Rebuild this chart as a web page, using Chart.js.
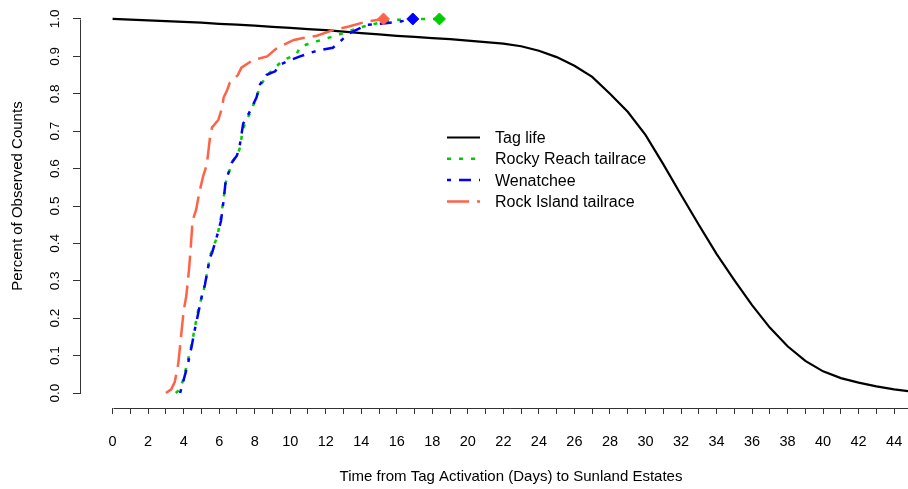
<!DOCTYPE html>
<html>
<head>
<meta charset="utf-8">
<script src="https://cdn.jsdelivr.net/npm/chart.js@4.4.1/dist/chart.umd.min.js"></script>
<style>
  html, body { margin: 0; padding: 0; background: #fff; }
  #wrap { width: 908px; height: 489px; }
</style>
</head>
<body>
<div id="wrap"><canvas id="grafico" width="908" height="489"></canvas></div>
<script>
const FONTE = "'Liberation Sans', Arial, Helvetica, sans-serif";

// vida da marca (dias desde a ativação, proporção ainda ativa)
const tagDias = [0,1,2,3,4,5,6,7,8,9,10,11,12,13,14,15,16,17,18,19,20,21,22,23,24,25,26,27,28,29,30,31,32,33,34,35,36,37,38,39,40,41,42,43,44,45];
const tagVida = [1.000,0.998,0.996,0.994,0.992,0.990,0.987,0.985,0.982,0.979,0.976,0.973,0.970,0.966,0.962,0.959,0.955,0.952,0.949,0.946,0.942,0.938,0.934,0.927,0.915,0.898,0.875,0.845,0.800,0.752,0.690,0.612,0.530,0.450,0.372,0.302,0.235,0.175,0.125,0.086,0.058,0.040,0.028,0.018,0.010,0.004];

// Rocky Reach tailrace
const rockyDias = [3.55,3.8,4.0,4.25,4.45,4.65,4.85,5.05,5.2,5.35,5.5,5.6,5.9,6.1,6.25,6.35,6.55,6.75,7.05,7.2,7.3,7.45,7.75,8.1,8.3,8.7,9.15,9.6,10.35,10.55,11.1,12.05,13.0,13.9,14.85,15.8,16.9,18.4];
const rockyPct  = [0,0.01,0.04,0.09,0.13,0.18,0.23,0.26,0.29,0.33,0.37,0.38,0.42,0.47,0.52,0.56,0.59,0.62,0.64,0.66,0.70,0.72,0.75,0.79,0.82,0.85,0.87,0.89,0.905,0.925,0.935,0.948,0.962,0.977,0.988,0.997,1.0,1.0];

// Wenatchee
const wenDias = [3.8,4.0,4.25,4.45,4.65,4.85,5.0,5.2,5.35,5.5,5.6,5.85,6.1,6.25,6.35,6.5,6.7,7.0,7.15,7.25,7.35,7.75,8.1,8.3,8.65,9.15,9.4,9.8,10.55,11.3,11.7,12.4,13.0,13.35,14.3,15.25,16.2,16.9];
const wenPct  = [0,0.035,0.08,0.125,0.175,0.22,0.255,0.29,0.33,0.365,0.375,0.415,0.46,0.515,0.56,0.585,0.615,0.635,0.66,0.69,0.72,0.755,0.79,0.825,0.85,0.86,0.877,0.886,0.9,0.912,0.917,0.923,0.948,0.962,0.984,0.988,0.993,1.0];

// Rock Island tailrace
const rockIslDias = [3.0,3.3,3.5,3.7,3.85,4.0,4.15,4.3,4.4,4.5,4.7,4.9,5.1,5.3,5.4,5.5,5.6,5.95,6.15,6.25,6.45,6.6,7.05,7.25,7.9,8.7,9.2,9.8,10.2,10.8,11.5,12.4,13.3,14.3,15.25];
const rockIslPct  = [0,0.01,0.03,0.08,0.15,0.22,0.26,0.33,0.39,0.46,0.49,0.54,0.58,0.61,0.65,0.69,0.71,0.73,0.76,0.79,0.81,0.83,0.85,0.87,0.89,0.90,0.92,0.935,0.944,0.95,0.955,0.97,0.98,0.993,1.0];

const xTicks = [0,1,2,3,4,5,6,7,8,9,10,11,12,13,14,15,16,17,18,19,20,21,22,23,24,25,26,27,28,29,30,31,32,33,34,35,36,37,38,39,40,41,42,43,44];
const yTicks = [0,0.1,0.2,0.3,0.4,0.5,0.6,0.7,0.8,0.9,1.0];

function pontos(dias, valores) {
    return dias.map((d, i) => ({ x: d, y: valores[i] }));
}

// losango só no último ponto de cada curva
function raioFinal(ctx) {
    return ctx.dataIndex === ctx.dataset.data.length - 1 ? 6 : 0;
}

const eixosELegenda = {
    id: 'eixosELegenda',
    afterDraw(chart) {
        const { ctx, chartArea, scales: { x, y } } = chart;
        ctx.save();
        ctx.strokeStyle = '#333';
        ctx.lineWidth = 1;

        // linhas dos eixos, do primeiro ao último tick
        const yb = Math.round(chartArea.bottom) + 0.5;
        ctx.beginPath();
        ctx.moveTo(Math.round(x.getPixelForValue(xTicks[0])) + 0.5, yb);
        ctx.lineTo(chartArea.right, yb);
        ctx.stroke();

        const xl = Math.round(chartArea.left) - 0.5;
        ctx.beginPath();
        ctx.moveTo(xl, Math.round(y.getPixelForValue(yTicks[0])) + 0.5);
        ctx.lineTo(xl, Math.round(y.getPixelForValue(yTicks[yTicks.length - 1])) + 0.5);
        ctx.stroke();

        // títulos
        ctx.fillStyle = '#000';
        ctx.font = '15px ' + FONTE;
        ctx.textAlign = 'center';
        ctx.textBaseline = 'middle';
        ctx.fillText('Time from Tag Activation (Days) to Sunland Estates', 511, 477);
        ctx.save();
        ctx.translate(18, 196);
        ctx.rotate(-Math.PI / 2);
        ctx.fillText('Percent of Observed Counts', 0, 0);
        ctx.restore();

        // legenda
        ctx.font = '16px ' + FONTE;
        ctx.textAlign = 'left';
        chart.data.datasets.forEach((ds, i) => {
            const ly = 137.5 + i * 21.3;
            ctx.strokeStyle = ds.borderColor;
            ctx.lineWidth = ds.borderWidth;
            ctx.setLineDash(ds.borderDash || []);
            ctx.beginPath();
            ctx.moveTo(447, ly);
            ctx.lineTo(480, ly);
            ctx.stroke();
            ctx.setLineDash([]);
            ctx.fillText(ds.label, 495, ly + 1);
        });
        ctx.restore();
    }
};

const graf = document.getElementById('grafico');

new Chart(graf, {
    type: 'scatter',
    data: {
        datasets: [
            {
                label: 'Tag life',
                data: pontos(tagDias, tagVida),
                borderColor: '#000000',
                backgroundColor: '#000000',
                borderWidth: 2.2,
                showLine: true,
                pointRadius: 0,
                order: 4
            },
            {
                label: 'Rocky Reach tailrace',
                data: pontos(rockyDias, rockyPct),
                borderColor: '#00cd00',
                backgroundColor: '#00cd00',
                borderWidth: 2.5,
                borderDash: [4, 8],
                showLine: true,
                pointStyle: 'rectRot',
                pointRadius: raioFinal,
                pointBorderWidth: 1,
                order: 3
            },
            {
                label: 'Wenatchee',
                data: pontos(wenDias, wenPct),
                borderColor: '#0000ff',
                backgroundColor: '#0000ff',
                borderWidth: 2.5,
                borderDash: [4, 8, 12, 8],
                showLine: true,
                pointStyle: 'rectRot',
                pointRadius: raioFinal,
                pointBorderWidth: 1,
                order: 2
            },
            {
                label: 'Rock Island tailrace',
                data: pontos(rockIslDias, rockIslPct),
                borderColor: '#ff6347',
                backgroundColor: '#ff6347',
                borderWidth: 2.5,
                borderDash: [22, 8],
                showLine: true,
                pointStyle: 'rectRot',
                pointRadius: raioFinal,
                pointBorderWidth: 1,
                order: 1
            }
        ]
    },
    options: {
        responsive: false,
        animation: false,
        devicePixelRatio: 1,
        layout: { autoPadding: false, padding: { top: 4, right: 0, bottom: 0, left: 0 } },
        plugins: {
            legend: { display: false },
            tooltip: { enabled: false }
        },
        scales: {
            x: {
                type: 'linear',
                min: -1.78,
                max: 44.78,
                afterBuildTicks: (s) => { s.ticks = xTicks.map(v => ({ value: v })); },
                // altura fixa, sem encolher a área nas laterais
                afterFit: (s) => { s.height = 81; s.paddingLeft = 0; s.paddingRight = 0; },
                border: { display: false },
                grid: {
                    drawOnChartArea: false,
                    drawTicks: true,
                    tickLength: 6,
                    color: '#333'
                },
                ticks: {
                    autoSkip: false,
                    maxRotation: 0,
                    minRotation: 0,
                    padding: 19,
                    color: '#000',
                    font: { family: FONTE, size: 14.5 },
                    callback: (v) => (v % 2 === 0 ? String(v) : '')
                }
            },
            y: {
                type: 'linear',
                min: -0.04,
                max: 1.04,
                afterBuildTicks: (s) => { s.ticks = yTicks.map(v => ({ value: v })); },
                // largura fixa e sem folga extra em cima/embaixo
                afterFit: (s) => { s.width = 81; s.paddingTop = 0; s.paddingBottom = 0; },
                border: { display: false },
                grid: {
                    drawOnChartArea: false,
                    drawTicks: true,
                    tickLength: 8,
                    color: '#333'
                },
                ticks: {
                    autoSkip: false,
                    minRotation: 90,
                    maxRotation: 90,
                    crossAlign: 'center',
                    padding: 8,
                    color: '#000',
                    font: { family: FONTE, size: 13.5 },
                    callback: (v) => v.toFixed(1)
                }
            }
        }
    },
    plugins: [eixosELegenda]
});
</script>
</body>
</html>
